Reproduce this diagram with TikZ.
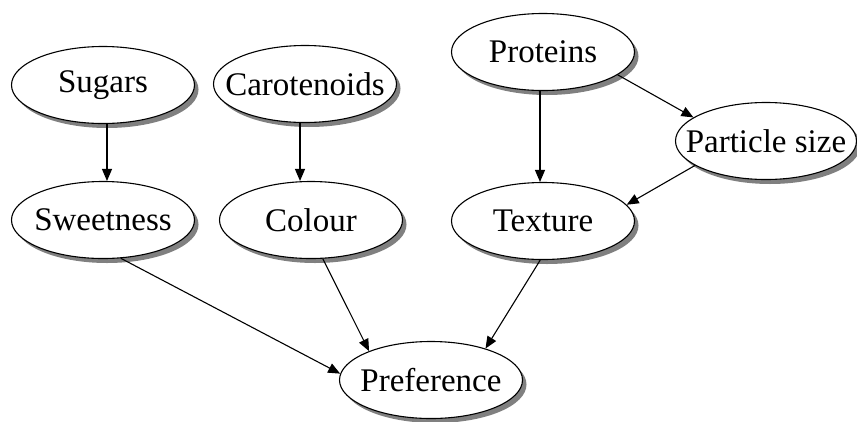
\documentclass[tikz,border=0pt]{standalone}
\usepackage{fontspec}
\setmainfont{Liberation Serif}
\usetikzlibrary{shapes.geometric,shadows,arrows.meta}

% a label of zero width, so that every ellipse keeps the same size
\newcommand{\vname}[1]{\makebox[0pt][c]{#1}}

\tikzset{
  var/.style={ellipse, draw=black, line width=1.1pt, fill=white,
    minimum width=183pt, minimum height=77pt, inner sep=0pt,
    font=\fontsize{33}{38}\selectfont,
    drop shadow={shadow xshift=4pt, shadow yshift=-4.5pt, fill=black!50, opacity=1}},
  link/.style={line width=1.1pt, -{Triangle[length=12pt,width=10pt]}}
}

\begin{document}
\begin{tikzpicture}[x=1pt,y=-1pt]
  \useasboundingbox (0,0) rectangle (857,421);

  % variables
  \node[var] (sug) at (103,85)  {\vname{Sugars}};
  \node[var] (car) at (305,84)  {\vname{Carotenoids}};
  \node[var] (pro) at (543,52)  {\vname{Proteins}};
  \node[var, minimum width=181pt] (par) at (766,141) {\vname{Particle size}};
  \node[var] (swe) at (103,220) {\vname{Sweetness}};
  \node[var] (col) at (311,220) {\vname{Colour}};
  \node[var] (tex) at (543,221) {\vname{Texture}};
  \node[var] (pre) at (431,380) {\vname{Preference}};

  % dependencies
  \draw[link] ([xshift=4pt]sug.south)  -- ([xshift=4pt]swe.north);
  \draw[link] ([xshift=-5pt]car.south) -- ([xshift=-11pt]col.north);
  \draw[link] ([xshift=-3pt]pro.south) -- ([xshift=-3pt]tex.north);
  \draw[link] (pro.-17)  -- (par.162);
  \draw[link] (par.199)  -- (tex.11);
  \draw[link] (swe.-65)  -- (pre.176);
  \draw[link] (col.-73)  -- (pre.155);
  \draw[link] (tex.-94)  -- (pre.30);
\end{tikzpicture}
\end{document}
